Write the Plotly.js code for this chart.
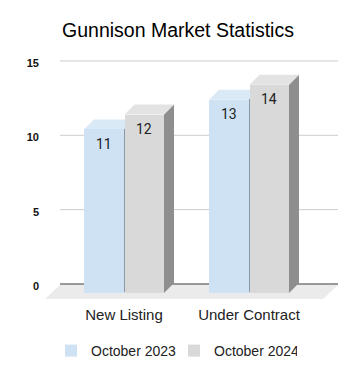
<!DOCTYPE html>
<html>
<head>
<meta charset="utf-8">
<script src="https://cdn.plot.ly/plotly-3.0.1.min.js"></script>
<style>html,body{margin:0;padding:0;background:#fff;}#chart{width:356px;height:370px;}</style>
</head>
<body>
<div id="chart"></div>
<script>
// ---- data ----
const categories = ["New Listing", "Under Contract"];
const seriesNames = ["October 2023", "October 2024"];
const oct2023 = [11, 13];
const oct2024 = [12, 14];
const yTicks = [0, 5, 10, 15];

// ---- styling / geometry ----
const W = 356, H = 370;
const M = {l: 45, r: 18, t: 55, b: 70};
const plotW = W - M.l - M.r, plotH = H - M.t - M.b;
const pxPerX = 125;          // pixels per category step
const x0px = 124 - M.l;      // pixel (inside plot) of category 0 center
const pxPerY = 14.87;        // pixels per unit value
const frontZeroPx = 293 - M.t;  // pixel (inside plot, from top) of front zero
const depthX = 10, depthY = 10, wallShift = 9;

const xRange = [-x0px / pxPerX, (plotW - x0px) / pxPerX];
const yRange = [-(plotH - frontZeroPx) / pxPerY, frontZeroPx / pxPerY];
const y2Range = [yRange[0] - wallShift / pxPerY, yRange[1] - wallShift / pxPerY];
const dx = depthX / pxPerX, dy = depthY / pxPerY;
const pxX = p => (p - M.l - x0px) / pxPerX;      // absolute page px -> x data
const pxY = p => (M.t + frontZeroPx - p) / pxPerY; // absolute page px -> y data

const barW = 0.316;
const offsets = [-0.32, 0.004];
const colors = {
  front: ["#cfe2f3", "#d9d9d9"],
  top: ["#dae9f6", "#e3e3e3"],
  side: ["#8b9aa8", "#8e8e8e"]
};
const series = [oct2023, oct2024];

const traces = series.map((vals, s) => ({
  type: "bar",
  name: seriesNames[s],
  x: categories.map((c, i) => i),
  y: vals,
  width: barW,
  offset: offsets[s],
  marker: {color: colors.front[s], line: {width: 0}},
  hoverinfo: "skip"
}));

const shapes = [];
// floor
shapes.push({
  type: "path", xref: "x", yref: "y", layer: "below",
  path: `M${pxX(60)},${pxY(285)} L${pxX(338)},${pxY(285)} L${pxX(323)},${pxY(299)} L${pxX(45)},${pxY(299)} Z`,
  fillcolor: "#ebebeb", line: {width: 0}
});
// gridlines on back wall
yTicks.forEach(v => {
  shapes.push({
    type: "line", xref: "x", yref: "y2", layer: "below",
    x0: pxX(60), x1: pxX(338), y0: v, y1: v,
    line: {color: v === 0 ? "#333333" : "#cccccc", width: 1}
  });
});
// 3D faces
series.forEach((vals, s) => {
  vals.forEach((v, i) => {
    const xl = i + offsets[s], xr = xl + barW;
    shapes.push({
      type: "path", xref: "x", yref: "y", layer: "below",
      path: `M${xr},0 L${xr},${v} L${xr + dx},${v + dy} L${xr + dx},${dy} Z`,
      fillcolor: colors.side[s], line: {width: 0}
    });
    shapes.push({
      type: "path", xref: "x", yref: "y", layer: "below",
      path: `M${xl},${v} L${xr},${v} L${xr + dx},${v + dy} L${xl + dx},${v + dy} Z`,
      fillcolor: colors.top[s], line: {width: 0}
    });
  });
});

const annotations = [];
series.forEach((vals, s) => {
  vals.forEach((v, i) => {
    annotations.push({
      xref: "x", yref: "y", x: i + offsets[s] + barW / 2, y: v,
      text: String(v), showarrow: false, yanchor: "middle", yshift: -14.5,
      font: {family: "Roboto, Arial, sans-serif", size: 14, color: "#222222"}
    });
  });
});

const layout = {
  width: W, height: H,
  margin: M,
  paper_bgcolor: "#ffffff", plot_bgcolor: "rgba(0,0,0,0)",
  showlegend: true,
  title: {
    text: "Gunnison Market Statistics",
    x: 0.5, xref: "container", xanchor: "center",
    y: 1 - 30 / H, yref: "container", yanchor: "middle",
    font: {family: "Liberation Sans, Arial, sans-serif", size: 19.5, color: "#000000"}
  },
  xaxis: {
    type: "linear", range: xRange, tickvals: [0, 1], ticktext: categories,
    showgrid: false, zeroline: false, showline: false,
    ticks: "outside", ticklen: 1, tickcolor: "rgba(0,0,0,0)",
    tickfont: {family: "Liberation Sans, Arial, sans-serif", size: 15, color: "#222222"},
    fixedrange: true
  },
  yaxis: {
    range: yRange, showgrid: false, zeroline: false, showline: false,
    showticklabels: false, ticks: "", fixedrange: true
  },
  yaxis2: {
    range: y2Range, overlaying: "y", side: "left", anchor: "x",
    tickvals: yTicks, ticktext: yTicks.map(String),
    showgrid: false, zeroline: false, showline: false,
    ticks: "", ticklabelstandoff: 5, ticklabelshift: 2,
    tickfont: {family: "Liberation Sans, Arial, sans-serif", size: 11, color: "#111111", weight: "bold"},
    fixedrange: true
  },
  legend: {
    orientation: "h", x: 0.5 - 4 / W, xref: "container", xanchor: "center",
    y: 1 - 351 / H, yref: "container", yanchor: "middle",
    font: {family: "Liberation Sans, Arial, sans-serif", size: 14, color: "#222222"},
    itemwidth: 30, tracegroupgap: 0, entrywidth: 78
  },
  shapes: shapes,
  annotations: annotations,
  bargap: 0, barmode: "overlay"
};

// dummy trace to make yaxis2 exist
traces.push({type: "scatter", x: [0], y: [0], yaxis: "y2", mode: "markers",
  marker: {opacity: 0}, showlegend: false, hoverinfo: "skip"});

Plotly.newPlot("chart", traces, layout, {displayModeBar: false, staticPlot: true});
</script>
</body>
</html>
